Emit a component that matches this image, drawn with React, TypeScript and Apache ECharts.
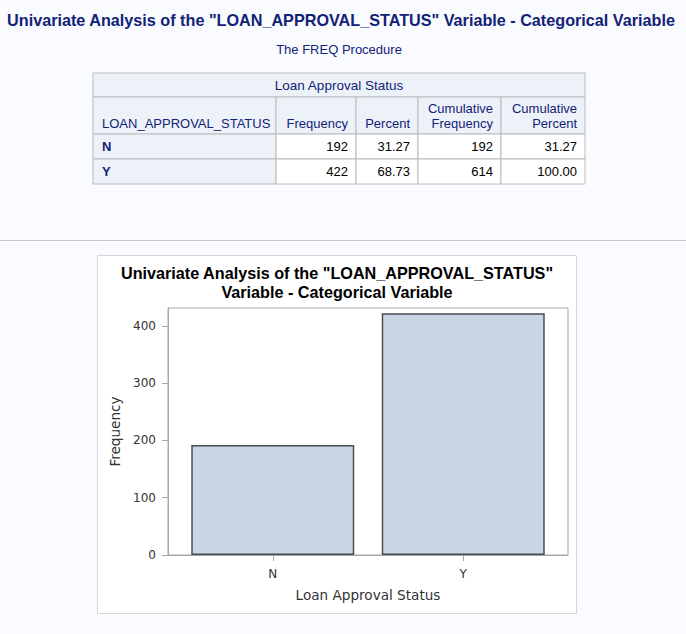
import React, { useEffect, useRef } from "react";
import * as echarts from "echarts";

const pageTitle = 'Univariate Analysis of the "LOAN_APPROVAL_STATUS" Variable - Categorical Variable';
const procTitle = "The FREQ Procedure";
const tableTitle = "Loan Approval Status";
const columnHeaders = [["LOAN_APPROVAL_STATUS"], ["Frequency"], ["Percent"], ["Cumulative", "Frequency"], ["Cumulative", "Percent"]];
const categories = ["N", "Y"];
const frequency = [192, 422];
const percent = ["31.27", "68.73"];
const cumFrequency = [192, 614];
const cumPercent = ["31.27", "100.00"];
const chartTitle = ['Univariate Analysis of the "LOAN_APPROVAL_STATUS"', "Variable - Categorical Variable"];
const yTicks = [0, 100, 200, 300, 400];
const xTitle = "Loan Approval Status";
const yTitle = "Frequency";

const NAVY = "#112277";
const FONT = "'Liberation Sans', Arial, sans-serif";
const GFONT = "'DejaVu Sans', sans-serif";

export default function App() {
  const ref = useRef<HTMLDivElement>(null);
  useEffect(() => {
    document.body.style.margin = "0";
    const chart = echarts.init(ref.current!, undefined, { renderer: "svg" });

    const colX = [93, 276, 356, 418, 501, 585];
    const rowY = [73, 97, 134, 159, 184];
    const els: any[] = [];
    const border = "#b8bcc0";
    const headBg = "#edf2f9";
    els.push({ type: "rect", shape: { x: colX[0], y: rowY[0], width: colX[5] - colX[0], height: rowY[1] - rowY[0] }, style: { fill: headBg, stroke: border, lineWidth: 1 } });
    els.push({ type: "text", x: (colX[0] + colX[5]) / 2, y: (rowY[0] + rowY[1]) / 2, style: { text: tableTitle, fill: NAVY, font: `13.5px ${FONT}`, align: "center", verticalAlign: "middle" } });
    columnHeaders.forEach((h, i) => {
      els.push({ type: "rect", shape: { x: colX[i], y: rowY[1], width: colX[i + 1] - colX[i], height: rowY[2] - rowY[1] }, style: { fill: headBg, stroke: border, lineWidth: 1 } });
      h.forEach((line, j) => {
        const yy = rowY[2] - 11 - (h.length - 1 - j) * 15;
        els.push({ type: "text", x: i === 0 ? colX[i] + 9 : colX[i + 1] - 8, y: yy, style: { text: line, fill: NAVY, font: `13px ${FONT}`, align: i === 0 ? "left" : "right", verticalAlign: "middle" } });
      });
    });
    categories.forEach((c, r) => {
      const vals = [c, String(frequency[r]), percent[r], String(cumFrequency[r]), cumPercent[r]];
      vals.forEach((v, i) => {
        els.push({ type: "rect", shape: { x: colX[i], y: rowY[r + 2], width: colX[i + 1] - colX[i], height: rowY[r + 3] - rowY[r + 2] }, style: { fill: i === 0 ? headBg : "#ffffff", stroke: border, lineWidth: 1 } });
        els.push({ type: "text", x: i === 0 ? colX[i] + 9 : colX[i + 1] - 8, y: (rowY[r + 2] + rowY[r + 3]) / 2, style: { text: v, fill: i === 0 ? NAVY : "#000000", font: `${i === 0 ? "bold " : ""}13px ${FONT}`, align: i === 0 ? "left" : "right", verticalAlign: "middle" } });
      });
    });

    chart.setOption({
      animation: false,
      backgroundColor: "#fafbfe",
      graphic: [
        { type: "text", x: 341, y: 20, style: { text: pageTitle, fill: NAVY, font: `bold 16.2px ${FONT}`, align: "center", verticalAlign: "middle" } },
        { type: "text", x: 339, y: 49, style: { text: procTitle, fill: NAVY, font: `13px ${FONT}`, align: "center", verticalAlign: "middle" } },
        ...els,
        { type: "line", shape: { x1: 0, y1: 240.5, x2: 686, y2: 240.5 }, style: { stroke: "#c4c6ca", lineWidth: 1 } },
        { type: "rect", z: -1, shape: { x: 97.5, y: 255.5, width: 479, height: 358 }, style: { fill: "#ffffff", stroke: "#d4d6d8", lineWidth: 1 } },
        { type: "text", x: 337, y: 273, style: { text: chartTitle[0], fill: "#000000", font: `bold 16.2px ${FONT}`, align: "center", verticalAlign: "middle" } },
        { type: "text", x: 337, y: 292, style: { text: chartTitle[1], fill: "#000000", font: `bold 16.2px ${FONT}`, align: "center", verticalAlign: "middle" } },
      ],
      grid: { left: 168, top: 308, width: 400, height: 247, show: true, borderColor: "#a4a8ac", borderWidth: 1, backgroundColor: "#ffffff", containLabel: false },
      xAxis: {
        type: "value",
        min: -0.55,
        max: 1.55,
        splitLine: { show: false },
        axisLine: { show: true, onZero: false, lineStyle: { color: "#a4a8ac" } },
        axisTick: { show: true, customValues: [0, 1], length: 6, lineStyle: { color: "#a4a8ac" } },
        axisLabel: { customValues: [0, 1], formatter: (v: number) => categories[Math.round(v)] ?? "", color: "#333333", fontSize: 12, fontFamily: GFONT, margin: 13 },
        name: xTitle,
        nameLocation: "middle",
        nameGap: 33,
        nameTextStyle: { color: "#333333", fontSize: 13.6, fontFamily: GFONT },
      },
      yAxis: {
        type: "value",
        min: 0,
        max: 431,
        splitLine: { show: false },
        axisLine: { show: true, onZero: false, lineStyle: { color: "#a4a8ac" } },
        axisTick: { show: true, customValues: yTicks, length: 6, lineStyle: { color: "#a4a8ac" } },
        axisLabel: { customValues: yTicks, color: "#333333", fontSize: 12, fontFamily: GFONT, margin: 12 },
        name: yTitle,
        nameLocation: "middle",
        nameGap: 44,
        nameTextStyle: { color: "#333333", fontSize: 13.6, fontFamily: GFONT },
      },
      series: [
        {
          type: "bar",
          data: categories.map((c, i) => [i, frequency[i]]),
          barWidth: 163,
          itemStyle: { color: "#cad5e5", borderColor: "#4a4c50", borderWidth: 1.5 },
        },
      ],
    });
    return () => chart.dispose();
  }, []);
  return <div ref={ref} style={{ width: 686, height: 634 }} />;
}
